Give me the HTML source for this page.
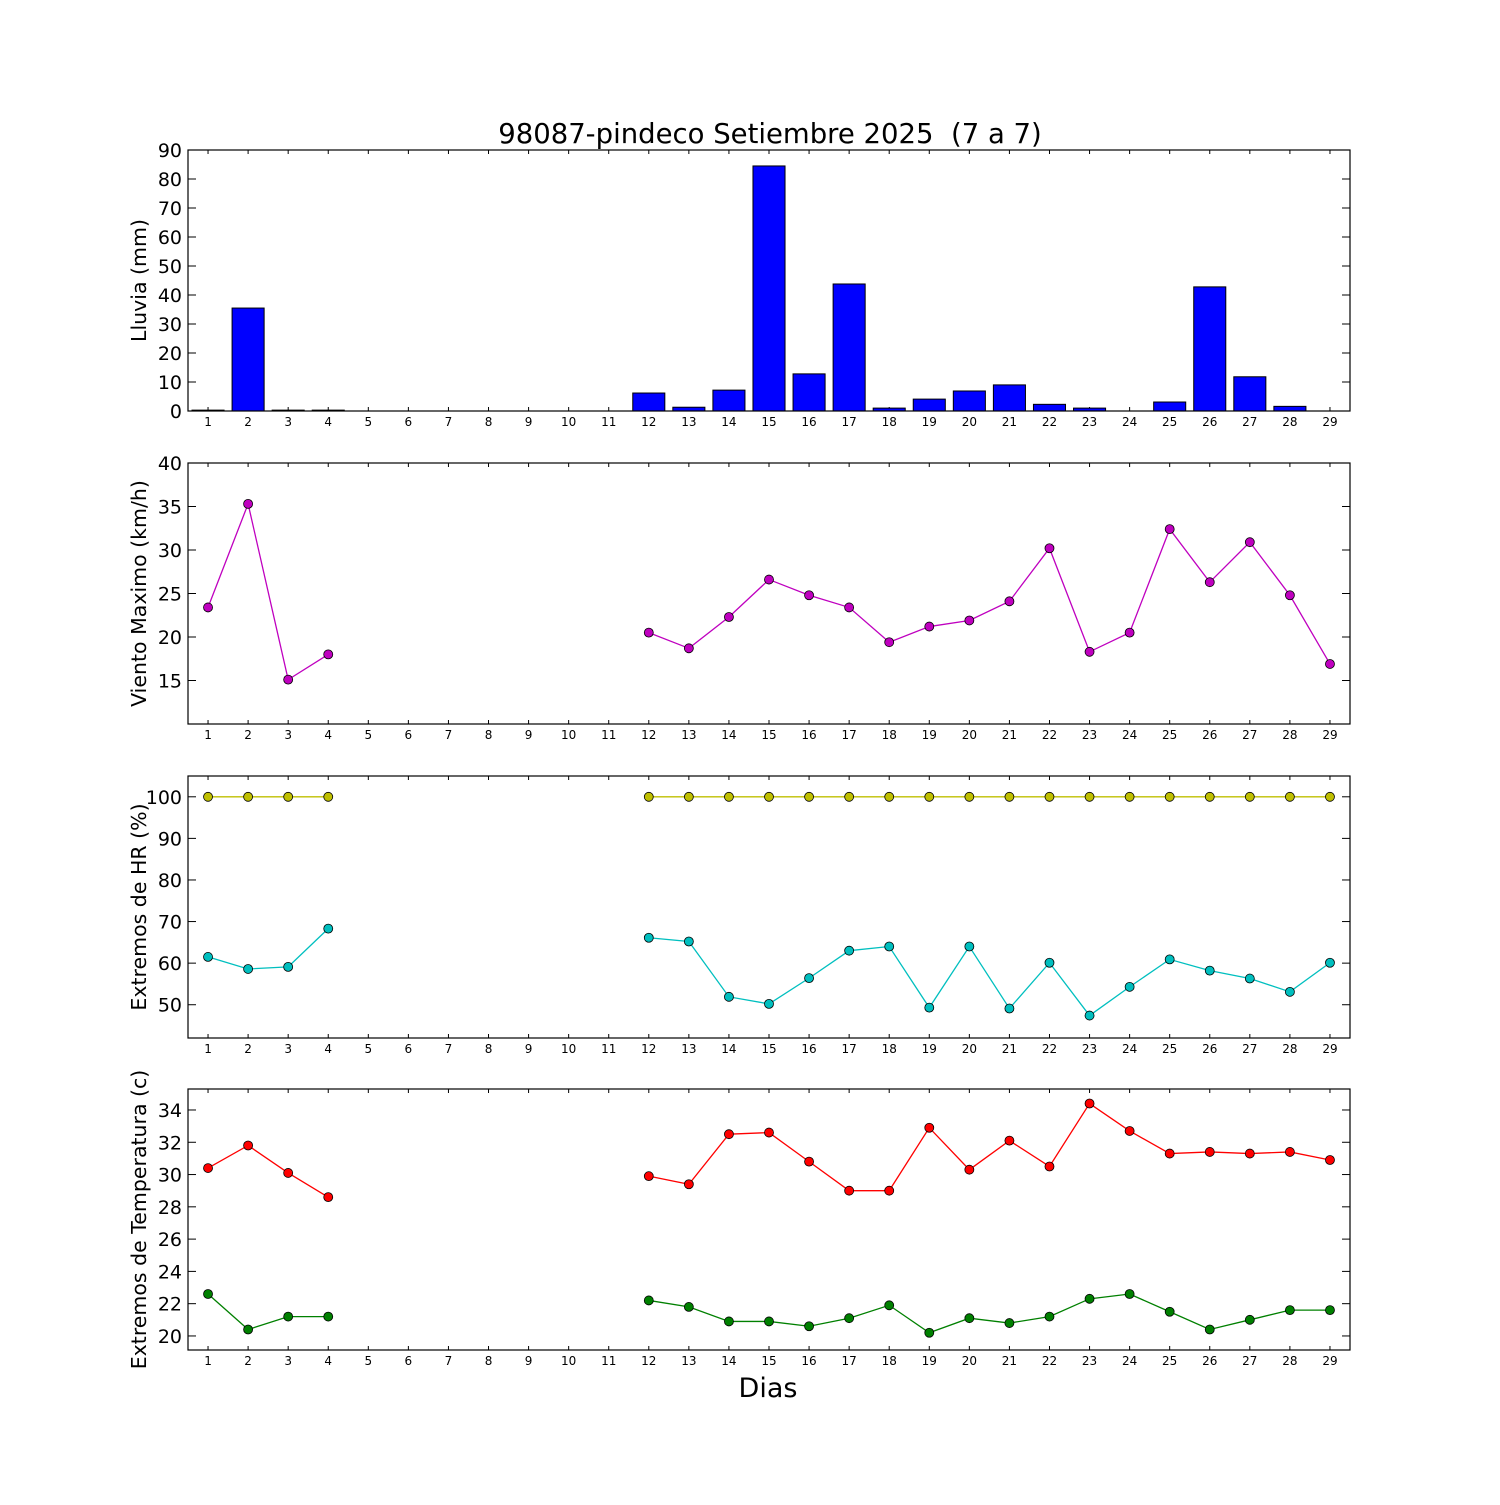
<!DOCTYPE html>
<html><head><meta charset="utf-8"><style>
body{margin:0;background:#fff}
svg{font-family:"DejaVu Sans","Liberation Sans",sans-serif}
</style></head><body>
<svg id="c" width="1500" height="1500" xmlns="http://www.w3.org/2000/svg">
<rect width="1500" height="1500" fill="#fff"/>
<text x="770" y="143" font-size="27.5" text-anchor="middle">98087-pindeco Setiembre 2025 &#160;(7 a 7)</text>
<text x="768" y="1397" font-size="27" text-anchor="middle">Dias</text>
</svg>
<script>
const days=[1,2,3,4,5,6,7,8,9,10,11,12,13,14,15,16,17,18,19,20,21,22,23,24,25,26,27,28,29];
const rain=[0.3,35.5,0.3,0.3,0,0,0,0,0,0,0,6.2,1.3,7.2,84.5,12.8,43.8,1,4.1,6.9,9,2.3,1,0,3.1,42.8,11.8,1.6,0];
const wind=[23.4,35.3,15.1,18,null,null,null,null,null,null,null,20.5,18.7,22.3,26.6,24.8,23.4,19.4,21.2,21.9,24.1,30.2,18.3,20.5,32.4,26.3,30.9,24.8,16.9];
const hrMax=[100,100,100,100,null,null,null,null,null,null,null,100,100,100,100,100,100,100,100,100,100,100,100,100,100,100,100,100,100];
const hrMin=[61.5,58.6,59.1,68.3,null,null,null,null,null,null,null,66.1,65.2,51.9,50.2,56.4,63,64,49.3,64,49.1,60.1,47.4,54.3,60.9,58.2,56.3,53.1,60.1];
const tMax=[30.4,31.8,30.1,28.6,null,null,null,null,null,null,null,29.9,29.4,32.5,32.6,30.8,29,29,32.9,30.3,32.1,30.5,34.4,32.7,31.3,31.4,31.3,31.4,30.9];
const tMin=[22.6,20.4,21.2,21.2,null,null,null,null,null,null,null,22.2,21.8,20.9,20.9,20.6,21.1,21.9,20.2,21.1,20.8,21.2,22.3,22.6,21.5,20.4,21,21.6,21.6];
const rainTicks=[0,10,20,30,40,50,60,70,80,90];
const windTicks=[15,20,25,30,35,40];
const hrTicks=[50,60,70,80,90,100];
const tTicks=[20,22,24,26,28,30,32,34];

const svg=document.getElementById('c');
const NS='http://www.w3.org/2000/svg';
const L=188,R=1350;
const xs=d=>L+(d-0.5)*(R-L)/29;
function mk(tag,attrs,parent){const e=document.createElementNS(NS,tag);for(const k in attrs)e.setAttribute(k,attrs[k]);(parent||svg).appendChild(e);return e;}

function panel(name,top,bot,ymin,ymax,ticks,label){
  const g=mk('g',{});
  
  
  const ys=v=>bot-(v-ymin)*(bot-top)/(ymax-ymin);
  days.forEach(d=>{
    const x=xs(d);
    mk('line',{x1:x,x2:x,y1:bot,y2:bot-4,stroke:'#000'},g);
    mk('line',{x1:x,x2:x,y1:top,y2:top+4,stroke:'#000'},g);
    const t=mk('text',{x:x,y:bot+15,'font-size':12,'text-anchor':'middle'},g);
    t.textContent=d;
    
    
  });
  ticks.forEach(v=>{
    const y=ys(v);
    mk('line',{x1:L,x2:L+8,y1:y,y2:y,stroke:'#000'},g);
    mk('line',{x1:R,x2:R-8,y1:y,y2:y,stroke:'#000'},g);
    const t=mk('text',{x:L-6,y:y+7,'font-size':19,'text-anchor':'end'},g);
    t.textContent=v;
    
    
  });
  const lt=mk('text',{x:0,y:0,'font-size':20.5,'text-anchor':'middle',transform:`translate(146,${(top+bot)/2}) rotate(-90)`},g);
  lt.textContent=label;
  
  
  return {g,ys,top,bot};
}
function frame(p){mk('rect',{x:L,y:p.top,width:R-L,height:p.bot-p.top,fill:'none',stroke:'#000','stroke-width':1.2},p.g);}
function series(p,vals,color,name){
  let seg=[];
  const segs=[];
  vals.forEach((v,i)=>{if(v==null){if(seg.length)segs.push(seg);seg=[];}else seg.push([xs(days[i]),p.ys(v)]);});
  if(seg.length)segs.push(seg);
  segs.forEach(s=>{
    const pl=mk('polyline',{points:s.map(q=>q.join(',')).join(' '),fill:'none',stroke:color,'stroke-width':1.3},p.g);
    
    
  });
  vals.forEach((v,i)=>{if(v==null)return;
    const c=mk('circle',{cx:xs(days[i]),cy:p.ys(v),r:4.5,fill:color,stroke:'#000','stroke-width':0.8},p.g);
    
    
  });
}

const p1=panel('rain',150,411,0,90,rainTicks,'Lluvia (mm)');
rain.forEach((v,i)=>{
  const w=0.8*(R-L)/29;
  const y=p1.ys(v);
  const b=mk('rect',{x:xs(days[i])-w/2,y:y,width:w,height:p1.bot-y,fill:'#0000ff',stroke:'#000','stroke-width':1},p1.g);
  
  
});
frame(p1);
const p2=panel('wind',463,724,10,40,windTicks,'Viento Maximo (km/h)');
series(p2,wind,'#bf00bf','wind');frame(p2);
const p3=panel('humidity',776,1038,42,105,hrTicks,'Extremos de HR (%)');
series(p3,hrMax,'#bfbf00','hr-max');series(p3,hrMin,'#00bfbf','hr-min');frame(p3);
const p4=panel('temperature',1089,1350,19.13,35.3,tTicks,'Extremos de Temperatura (c)');
series(p4,tMax,'#ff0000','temp-max');series(p4,tMin,'#008000','temp-min');frame(p4);
</script>
</body></html>
